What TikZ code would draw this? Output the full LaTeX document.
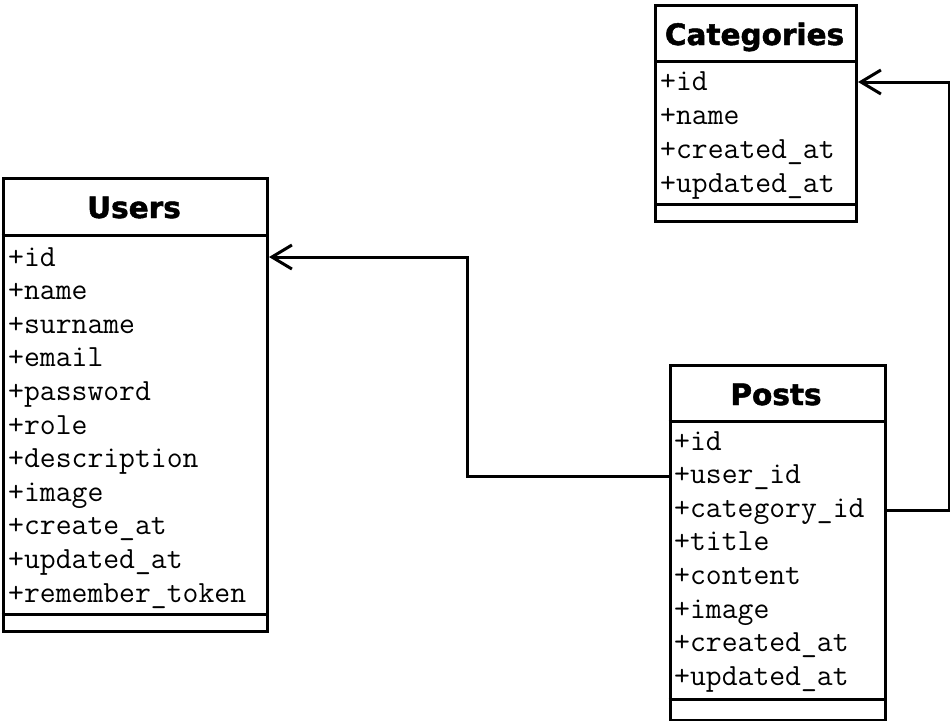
\documentclass[tikz,border=0pt]{standalone}
\usepackage{fontspec}
\usetikzlibrary{arrows.meta}
\newfontfamily\hdrfont{DejaVu Sans}[BoldFeatures={FakeBold=1.6}]
\begin{document}
\begin{tikzpicture}[x=1pt,y=-1pt,
  tbl/.style={draw, line width=3pt, fill=white, inner sep=0pt, anchor=north west},
  sep/.style={line width=3pt},
  hdr/.style={anchor=base, inner sep=0pt, font=\hdrfont\bfseries\fontsize{29.5}{30}\selectfont},
  attr/.style={anchor=base west, inner sep=0pt, font=\ttfamily\fontsize{30.8}{31}\selectfont},
  link/.style={line width=3pt, -{Straight Barb[length=20pt,width=24pt,line width=3pt]}}
]
\useasboundingbox (0,0) rectangle (950,720);
% Users
\node[tbl, minimum width=264.5pt, minimum height=453pt] (users) at (1.5,177) {};
\draw[sep] (1.5,235) -- (266,235);
\draw[sep] (1.5,614) -- (266,614);
\node[hdr] (usersT) at (134,218) {Users};
\foreach \t [count=\i from 0] in {+id,+name,+surname,+email,+password,+role,+description,+image,+create\_at,+updated\_at,+remember\_token}
  \node[attr] (u\i) at (8,266+33.6*\i) {\t};
% Categories
\node[tbl, minimum width=201pt, minimum height=216pt] (cats) at (654,3.5) {};
\draw[sep] (654,61) -- (855,61);
\draw[sep] (654,204) -- (855,204);
\node[hdr] (catsT) at (754.5,45) {Categories};
\foreach \t [count=\i from 0] in {+id,+name,+created\_at,+updated\_at}
  \node[attr] (c\i) at (660,90+34*\i) {\t};
% Posts
\node[tbl, minimum width=215pt, minimum height=355pt] (posts) at (668.5,363.5) {};
\draw[sep] (668.5,421) -- (883.5,421);
\draw[sep] (668.5,699) -- (883.5,699);
\node[hdr] (postsT) at (776,405) {Posts};
\foreach \t [count=\i from 0] in {+id,+user\_id,+category\_id,+title,+content,+image,+created\_at,+updated\_at}
  \node[attr] (p\i) at (674,450+33.6*\i) {\t};
% connector anchors
\coordinate (pu) at (posts.west |- 0,476);
\coordinate (ui) at (users.east |- 0,257);
\coordinate (pc) at (posts.east |- 0,510);
\coordinate (ci) at (cats.east |- 0,82);
\draw[link] (pu) -- ++(-201.5,0) |- (ui);
\draw[link] (pc) -- ++(62.5,0) |- (ci);
\end{tikzpicture}
\end{document}
